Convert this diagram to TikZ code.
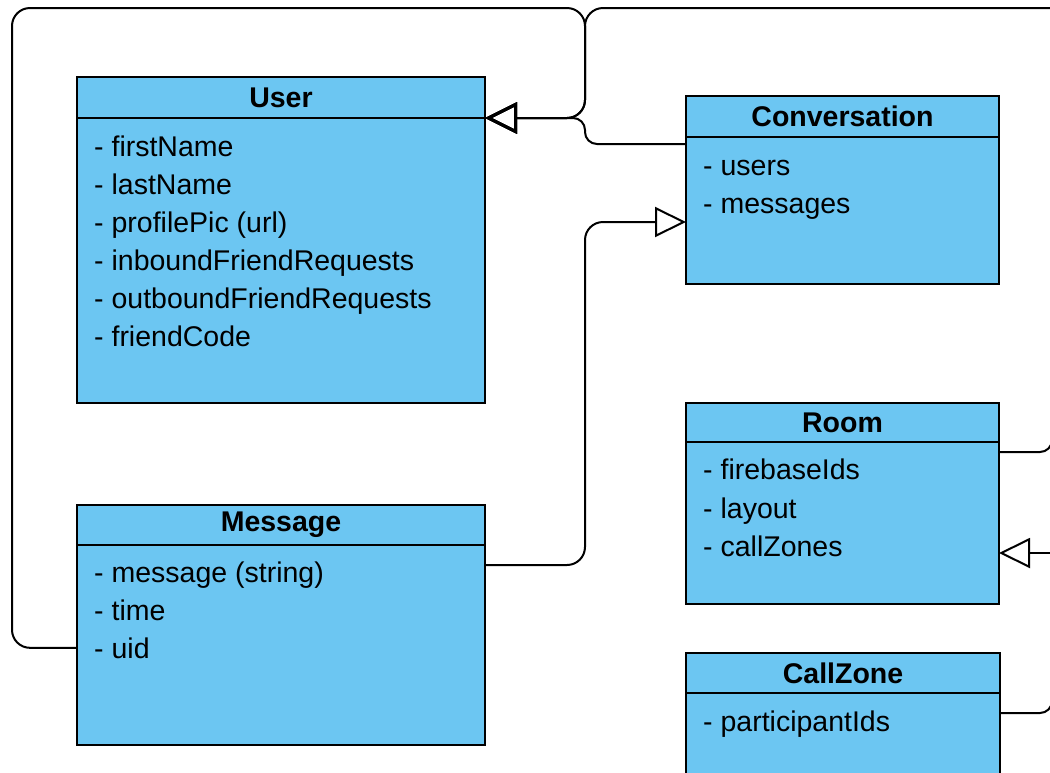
\documentclass[tikz,border=0pt]{standalone}
\usepackage{fontspec}
\setmainfont{Liberation Sans}
\usetikzlibrary{positioning}
\usetikzlibrary{arrows.meta}
\definecolor{classblue}{RGB}{108,198,242}
\tikzset{
    every picture/.style={x=1pt,y=-1pt},
    cls/.style={draw, fill=classblue, line width=2pt, outer sep=0pt, inner sep=0pt},
    hdr/.style={cls, minimum height=41pt, anchor=north west,
                font=\fontsize{28.5}{34}\selectfont\bfseries},
    body/.style={cls},
    attr/.style={anchor=base west, inner sep=0pt, font=\fontsize{28.5}{34}\selectfont},
    conn/.style={line width=2pt, rounded corners=18pt},
    inherit/.style={-{Triangle[open,length=31pt,width=30pt,line width=2pt]}},
    inherit big/.style={-{Triangle[open,length=32pt,width=31pt,line width=3pt]}},
}

\begin{document}
\begin{tikzpicture}
    \useasboundingbox (0,0) rectangle (1050,772);
    \clip (0,0) rectangle (1050,772);
    % classes
    \node[hdr, minimum width=408pt] (user-hdr) at (77,77) {User};
    \node[body, minimum width=408pt, minimum height=285pt, below=0pt of user-hdr] (user-body) {};
    \foreach \a [count=\i] in {firstName, lastName, {profilePic (url)}, inboundFriendRequests, outboundFriendRequests, friendCode}
        \node[attr] (user-a\i) at ([xshift=17pt, yshift=-38pt*\i]user-body.north west) {- \a};

    \node[hdr, minimum width=408pt, minimum height=40pt] (msg-hdr) at (77,505) {Message};
    \node[body, minimum width=408pt, minimum height=200pt, below=0pt of msg-hdr] (msg-body) {};
    \foreach \a [count=\i] in {{message (string)}, time, uid}
        \node[attr] (msg-a\i) at ([xshift=17pt, yshift=1pt-38pt*\i]msg-body.north west) {- \a};

    \node[hdr, minimum width=313pt] (conv-hdr) at (686,96) {Conversation};
    \node[body, minimum width=313pt, minimum height=147pt, below=0pt of conv-hdr] (conv-body) {};
    \foreach \a [count=\i] in {users, messages}
        \node[attr] (conv-a\i) at ([xshift=17pt, yshift=-38pt*\i]conv-body.north west) {- \a};

    \node[hdr, minimum width=313pt, minimum height=39pt] (room-hdr) at (686,403) {Room};
    \node[body, minimum width=313pt, minimum height=162pt, below=0pt of room-hdr] (room-body) {};
    \foreach \a [count=\i] in {firebaseIds, layout, callZones}
        \node[attr] (room-a\i) at ([xshift=17pt, yshift=1pt-38.5pt*\i]room-body.north west) {- \a};

    \node[hdr, minimum width=314pt, minimum height=40pt] (cz-hdr) at (686,653) {CallZone};
    \node[body, minimum width=314pt, minimum height=140pt, below=0pt of cz-hdr] (cz-body) {};
    \node[attr] (cz-a1) at ([xshift=17pt, yshift=-38pt]cz-body.north west) {- participantIds};

    % bends and free ends
    \coordinate (loop-nw) at (12,8);
    \coordinate (bus) at (585,118);
    \coordinate (top-right) at (1060,8);
    \coordinate (msg-bend) at (585,222);
    \coordinate (room-out) at (1052,380);
    \coordinate (room-in) at (1060,553);
    \coordinate (cz-out) at (1052,640);

    % connectors
    \draw[conn, inherit big] (msg-a3.west -| msg-body.west) -| (loop-nw) -| (bus) -- (user-hdr.south east);
    \draw[conn, rounded corners=12pt, inherit big] ([yshift=-7pt]conv-body.north west) -| (bus) -- (user-hdr.south east);
    \draw[conn, inherit big] (top-right) -| (bus) -- (user-hdr.south east);
    \draw[conn, inherit] ([yshift=-20pt]msg-body.north east) -| (msg-bend) -- ([yshift=-85pt]conv-body.north west);
    \draw[conn, rounded corners=12pt] ([yshift=-10pt]room-body.north east) -| (room-out);
    \draw[conn, inherit] (room-in) -- (room-in -| room-body.east);
    \draw[conn, rounded corners=12pt] ([yshift=-20pt]cz-body.north east) -| (cz-out);
\end{tikzpicture}
\end{document}
